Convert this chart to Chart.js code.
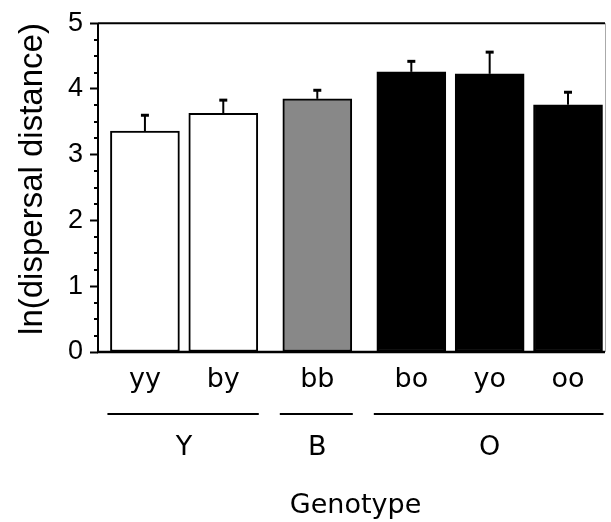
<!DOCTYPE html>
<html>
<head>
<meta charset="utf-8">
<script src="https://cdn.jsdelivr.net/npm/chart.js@4.4.1/dist/chart.umd.min.js"></script>
<style>
  body { margin: 0; background: #fff; }
  #grafico { display: block; }
</style>
</head>
<body>
<canvas id="grafico" width="611" height="522"></canvas>
<script>
var genotypes = ['yy', 'by', 'bb', 'bo', 'yo', 'oo'];
var groupOf = ['Y', 'Y', 'B', 'O', 'O', 'O'];
var groups = ['Y', 'B', 'O'];
var means = [3.36, 3.63, 3.85, 4.26, 4.23, 3.76];
var errors = [0.24, 0.20, 0.13, 0.16, 0.33, 0.19];

var cores = { Y: '#ffffff', B: '#888888', O: '#000000' };
var groupGap = 0.2;
var barWidth = 69;
var labelFont = '27px "DejaVu Sans"';

// one unit per bar on the x scale, plus a small gap between groups
var xPos = genotypes.map(function (g, i) {
  return i + groups.indexOf(groupOf[i]) * groupGap;
});

var extras = {
  id: 'extras',
  afterDatasetsDraw: function (chart) {
    var ctx = chart.ctx;
    var xs = chart.scales.x;
    var ys = chart.scales.y;
    var area = chart.chartArea;
    ctx.save();
    ctx.strokeStyle = '#000';
    ctx.fillStyle = '#000';

    // error bars, upper side only
    for (var i = 0; i < means.length; i++) {
      var px = xs.getPixelForValue(xPos[i]);
      var y0 = ys.getPixelForValue(means[i]);
      var y1 = ys.getPixelForValue(means[i] + errors[i]);
      ctx.lineWidth = 2;
      ctx.beginPath(); ctx.moveTo(px, y0); ctx.lineTo(px, y1); ctx.stroke();
      ctx.lineWidth = 3;
      ctx.beginPath(); ctx.moveTo(px - 4, y1); ctx.lineTo(px + 4, y1); ctx.stroke();
    }

    // frame: axes black, top black, right side light grey
    ctx.lineWidth = 2;
    ctx.beginPath();
    ctx.moveTo(area.left, area.top); ctx.lineTo(area.left, area.bottom);
    ctx.moveTo(area.left, area.top); ctx.lineTo(area.right, area.top);
    ctx.stroke();
    ctx.lineWidth = 2.5;
    ctx.beginPath(); ctx.moveTo(area.left - 1, area.bottom); ctx.lineTo(area.right, area.bottom); ctx.stroke();
    ctx.strokeStyle = '#aaaaaa';
    ctx.lineWidth = 1;
    ctx.beginPath(); ctx.moveTo(area.right + 0.5, area.top); ctx.lineTo(area.right + 0.5, area.bottom); ctx.stroke();

    // minor ticks on y
    ctx.strokeStyle = '#000';
    ctx.lineWidth = 2;
    for (var v = 0.25; v < ys.max; v += 0.25) {
      if (Math.abs(v - Math.round(v)) < 0.01) continue;
      var ty = Math.round(ys.getPixelForValue(v));
      ctx.beginPath(); ctx.moveTo(area.left - 4, ty); ctx.lineTo(area.left, ty); ctx.stroke();
    }

    // genotype labels under the bars
    ctx.font = labelFont;
    ctx.textAlign = 'center';
    ctx.textBaseline = 'alphabetic';
    for (var k = 0; k < genotypes.length; k++) {
      ctx.fillText(genotypes[k], xs.getPixelForValue(xPos[k]), 387);
    }

    // group lines and group names
    groups.forEach(function (gr) {
      var idx = [];
      groupOf.forEach(function (g, j) { if (g === gr) idx.push(j); });
      var left = xs.getPixelForValue(xPos[idx[0]]) - barWidth / 2 - 3;
      var right = xs.getPixelForValue(xPos[idx[idx.length - 1]]) + barWidth / 2 + 1;
      ctx.lineWidth = 2;
      ctx.beginPath(); ctx.moveTo(left, 414); ctx.lineTo(right, 414); ctx.stroke();
      var mid = (xs.getPixelForValue(xPos[idx[0]]) + xs.getPixelForValue(xPos[idx[idx.length - 1]])) / 2;
      ctx.fillText(gr, mid, 455);
    });

    ctx.fillText('Genotype', (area.left + area.right) / 2 + 4, 513);

    // y axis title
    ctx.font = '33px "Liberation Sans"';
    ctx.translate(42, 179);
    ctx.rotate(-Math.PI / 2);
    ctx.fillText('ln(dispersal distance)', 0, 0);
    ctx.restore();
  }
};

var data = {
  datasets: [{
    data: xPos.map(function (x, i) { return { x: x, y: means[i] }; }),
    backgroundColor: groupOf.map(function (g) { return cores[g]; }),
    borderColor: '#000000',
    borderWidth: 2,
    borderSkipped: false,
    barThickness: barWidth
  }]
};

var grafico = new Chart(document.getElementById('grafico'), {
  type: 'bar',
  data: data,
  options: {
    responsive: false,
    animation: false,
    devicePixelRatio: 1,
    layout: { padding: { top: 23, right: 6, left: 0, bottom: 0 } },
    plugins: { legend: { display: false }, tooltip: { enabled: false } },
    scales: {
      x: {
        type: 'linear',
        offset: false,
        min: -0.599,
        max: 5.872,
        grid: { display: false, offset: false },
        border: { display: false },
        ticks: { display: false },
        afterFit: function (scale) { scale.height = 170; }
      },
      y: {
        min: 0,
        max: 5,
        grid: { drawOnChartArea: false, drawTicks: true, tickLength: 8, tickWidth: 2, tickColor: '#000', color: '#000' },
        border: { display: false },
        ticks: {
          stepSize: 1,
          padding: 7,
          color: '#000',
          font: { family: 'Liberation Sans', size: 27 }
        },
        afterFit: function (scale) { scale.width = 98; }
      }
    }
  },
  plugins: [extras]
});
</script>
</body>
</html>
